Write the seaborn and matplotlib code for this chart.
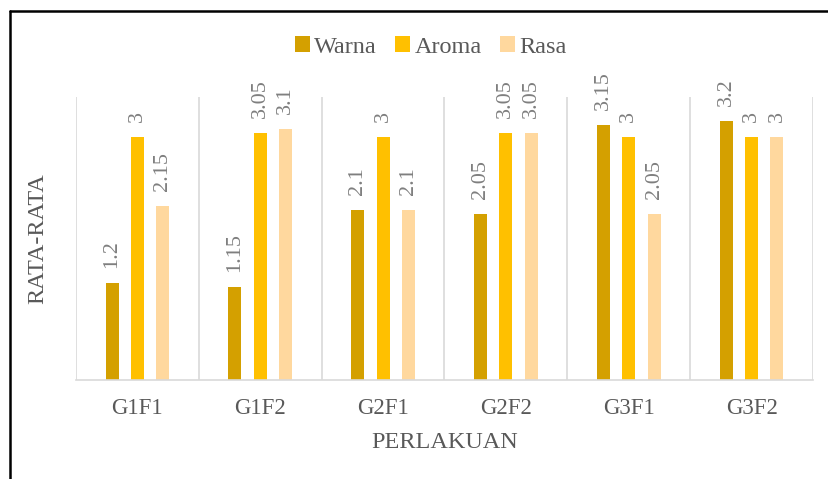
import matplotlib
matplotlib.use("Agg")
import matplotlib.pyplot as plt
from matplotlib.lines import Line2D
import seaborn as sns
import pandas as pd

categories = ["G1F1", "G1F2", "G2F1", "G2F2", "G3F1", "G3F2"]
series_names = ["Warna", "Aroma", "Rasa"]
warna = [1.2, 1.15, 2.1, 2.05, 3.15, 3.2]
aroma = [3, 3.05, 3, 3.05, 3, 3]
rasa = [2.15, 3.1, 2.1, 3.05, 2.05, 3]
colors = ["#D4A000", "#FFC000", "#FFD89E"]

rows = []
for name, vals in zip(series_names, [warna, aroma, rasa]):
    for c, v in zip(categories, vals):
        rows.append({"Perlakuan": c, "Seri": name, "Nilai": v})
df = pd.DataFrame(rows)

sns.set_theme(style="white")
plt.rcParams["font.family"] = ["Liberation Serif", "DejaVu Serif"]
text_col = "#595959"

fig = plt.figure(figsize=(8.29, 4.79), dpi=100)
ax = fig.add_axes([76/829, 1-380/479, (813-76)/829, (380-97)/479])

sns.barplot(data=df, x="Perlakuan", y="Nilai", hue="Seri", order=categories,
            hue_order=series_names, palette=colors, width=0.62, gap=0.49,
            saturation=1, ax=ax, legend=True, edgecolor="none")

for cont in ax.containers:
    ax.bar_label(cont, fmt="%g", rotation=90, padding=11, fontsize=16, color="#7f7f7f")

ax.set_ylim(0, 3.5)
ax.set_xlim(-0.5, len(categories) - 0.5)
ax.set_yticks([])
ax.set_xticks(range(len(categories)))
ax.set_xticklabels(categories, fontsize=16.5, color=text_col)
ax.set_xticks([i - 0.5 for i in range(len(categories) + 1)], minor=True)
ax.tick_params(axis="x", which="both", length=0, pad=13)
ax.grid(False)
ax.xaxis.grid(True, which="minor", color="#d9d9d9", linewidth=1.2)
for s in ["top", "right", "left"]:
    ax.spines[s].set_visible(False)
ax.spines["bottom"].set_color("#d9d9d9")
ax.spines["bottom"].set_linewidth(1.2)
ax.set_xlabel("PERLAKUAN", fontsize=17.5, color=text_col, labelpad=9)
ax.set_ylabel("RATA-RATA", fontsize=17.5, color=text_col, labelpad=20)

leg = ax.get_legend()
handles, labels = ax.get_legend_handles_labels()
leg.remove()
fig.legend(handles, labels, loc="center", bbox_to_anchor=(431/829, 1-47/479),
           ncol=3, frameon=False, fontsize=17.5, handlelength=0.6, handleheight=0.6,
           handletextpad=0.2, columnspacing=0.75, labelcolor=text_col)

fig.add_artist(Line2D([10.5/829, 1], [1-10.5/479, 1-10.5/479], transform=fig.transFigure,
                      color="black", linewidth=1.8))
fig.add_artist(Line2D([10.5/829, 10.5/829], [0, 1-10.5/479], transform=fig.transFigure,
                      color="black", linewidth=1.8))

fig.savefig("out.png", dpi=100)
